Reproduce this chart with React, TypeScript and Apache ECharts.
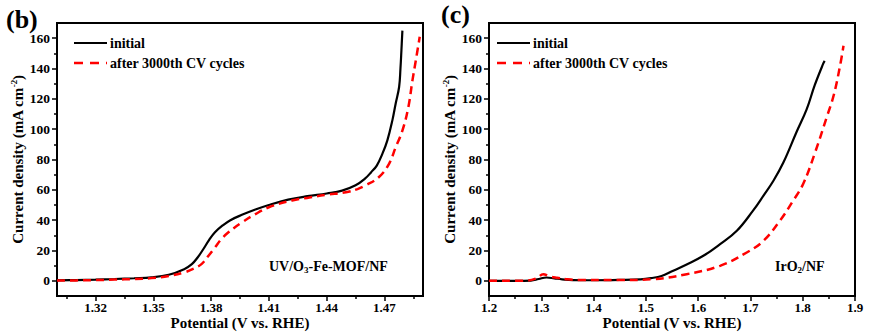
import React, { useEffect, useRef } from "react";
import * as echarts from "echarts";

// ---------- data: panel (b) UV/O3-Fe-MOF/NF ----------
const bInitialX = [1.300, 1.310, 1.320, 1.330, 1.340, 1.349, 1.358, 1.366, 1.370, 1.373, 1.376, 1.379, 1.382, 1.386, 1.390, 1.396, 1.403, 1.410, 1.420, 1.430, 1.440, 1.448, 1.455, 1.460, 1.463, 1.466, 1.469, 1.4715, 1.4741, 1.4758, 1.4776, 1.4783, 1.4788, 1.4793];
const bInitialY = [0.3, 0.5, 0.8, 1.2, 1.7, 2.3, 4.0, 7.7, 11, 15.4, 21, 27, 32, 36.5, 40, 43.5, 47, 50, 53.5, 55.8, 57.6, 59.5, 63, 67.5, 71.5, 76, 84, 92.6, 105.8, 116.8, 127.8, 140, 152, 165];
const bAfterX = [1.300, 1.310, 1.320, 1.330, 1.340, 1.349, 1.358, 1.366, 1.371, 1.375, 1.378, 1.382, 1.385, 1.389, 1.396, 1.403, 1.410, 1.422, 1.431, 1.440, 1.450, 1.456, 1.460, 1.467, 1.4723, 1.4758, 1.4793, 1.4824, 1.4845, 1.4863, 1.4883];
const bAfterY = [0.2, 0.3, 0.5, 0.8, 1.2, 1.8, 3.2, 5.5, 8, 11, 15.5, 22, 27, 32, 38.5, 44, 48.5, 53, 55, 56.8, 58.4, 60.5, 62.8, 68.3, 77, 88, 99, 114.6, 132, 145.5, 160.9];

// ---------- data: panel (c) IrO2/NF ----------
const cInitialX = [1.20, 1.25, 1.28, 1.295, 1.31, 1.325, 1.34, 1.36, 1.40, 1.45, 1.49, 1.51, 1.53, 1.55, 1.578, 1.610, 1.642, 1.674, 1.705, 1.725, 1.744, 1.763, 1.788, 1.8075, 1.823, 1.839, 1.842];
const cInitialY = [0, 0, 0.2, 1.2, 2.2, 1.6, 1.0, 0.5, 0.4, 0.6, 1.0, 1.8, 3.2, 6.3, 10.8, 16.5, 24.2, 33, 46.3, 56.2, 66, 78, 98, 113, 129, 143, 145];
const cAfterX = [1.20, 1.27, 1.29, 1.304, 1.315, 1.33, 1.35, 1.38, 1.45, 1.514, 1.578, 1.642, 1.693, 1.725, 1.7565, 1.782, 1.801, 1.823, 1.846, 1.859, 1.871, 1.878];
const cAfterY = [0, 0.1, 1.5, 4.4, 3.0, 2.0, 1.0, 0.5, 0.5, 1.1, 4.4, 9.9, 18.7, 26.4, 39.7, 53, 64, 84, 108, 122, 141, 155];

// ---------- ticks ----------
const bXTicks = [1.32, 1.35, 1.38, 1.41, 1.44, 1.47];
const bXMinor = [1.305, 1.335, 1.365, 1.395, 1.425, 1.455, 1.485];
const cXTicks = [1.2, 1.3, 1.4, 1.5, 1.6, 1.7, 1.8, 1.9];
const cXMinor = [1.25, 1.35, 1.45, 1.55, 1.65, 1.75, 1.85];
const yTicks = [0, 20, 40, 60, 80, 100, 120, 140, 160];
const yMinor = [10, 30, 50, 70, 90, 110, 130, 150];

const seriesNames = ["initial", "after 3000th CV cycles"];

const zip = (xs: number[], ys: number[]) => xs.map((x, i) => [x, ys[i]]);

const FONT = "'Liberation Serif', 'Times New Roman', serif";

export default function App() {
  const ref = useRef<HTMLDivElement>(null);

  useEffect(() => {
    if (!ref.current) return;
    const chart = echarts.init(ref.current, undefined, { renderer: "svg" });

    const grids = [
      { left: 57, top: 23, width: 366, height: 273 },
      { left: 489, top: 23, width: 366, height: 273 },
    ];

    const labelStyle = {
      color: "#000",
      fontWeight: "bold" as const,
      fontSize: 13.5,
      fontFamily: FONT,
    };

    const makeX = (g: number, min: number, max: number, ticks: number[], minor: number[], dec: number) => [
      {
        type: "value",
        gridIndex: g,
        min,
        max,
        position: "bottom",
        axisLine: { show: true, onZero: false, lineStyle: { color: "#000", width: 2 } },
        axisTick: { show: true, inside: false, length: 5, customValues: ticks, lineStyle: { color: "#000", width: 1.5 } },
        axisLabel: {
          show: true,
          customValues: ticks,
          margin: 5,
          lineHeight: 12,
          formatter: (v: number) => v.toFixed(dec),
          ...labelStyle,
          fontSize: 13,
        },
        splitLine: { show: false },
        name: "Potential (V vs. RHE)",
        nameLocation: "middle",
        nameGap: 20,
        nameMoveOverlap: false,
        nameTextStyle: {
          color: "#000",
          fontWeight: "bold",
          fontSize: 15,
          lineHeight: 14,
          fontFamily: FONT,
          verticalAlign: "top",
        },
      },
      {
        type: "value",
        gridIndex: g,
        min,
        max,
        position: "bottom",
        axisLine: { show: false, onZero: false },
        axisTick: { show: true, inside: false, length: 3, customValues: minor, lineStyle: { color: "#000", width: 1.5 } },
        axisLabel: { show: false },
        splitLine: { show: false },
      },
    ];

    const makeY = (g: number) => [
      {
        type: "value",
        gridIndex: g,
        min: -10,
        max: 170,
        position: "left",
        axisLine: { show: true, onZero: false, lineStyle: { color: "#000", width: 2 } },
        axisTick: { show: true, inside: false, length: 5, customValues: yTicks, lineStyle: { color: "#000", width: 1.5 } },
        axisLabel: { show: true, customValues: yTicks, margin: 7, ...labelStyle },
        splitLine: { show: false },
        name: "{a|Current density (mA cm}{s|-2}{a|)}",
        nameLocation: "middle",
        nameGap: 31,
        nameMoveOverlap: false,
        nameTextStyle: {
          color: "#000",
          fontWeight: "bold",
          fontSize: 15,
          fontFamily: FONT,
          rich: {
            a: { color: "#000", fontWeight: "bold", fontSize: 15, fontFamily: FONT },
            s: { color: "#000", fontWeight: "bold", fontSize: 9, fontFamily: FONT, padding: [0, 0, 8, 0] },
          },
        },
      },
      {
        type: "value",
        gridIndex: g,
        min: -10,
        max: 170,
        position: "left",
        axisLine: { show: false, onZero: false },
        axisTick: { show: true, inside: false, length: 3, customValues: yMinor, lineStyle: { color: "#000", width: 1.5 } },
        axisLabel: { show: false },
        splitLine: { show: false },
      },
    ];

    const lineInitial = { color: "#000", width: 2.2, type: "solid" };
    const lineAfter = { color: "#ff0000", width: 2.5, type: [8, 5] };

    const mkSeries = (name: string, xi: number, yi: number, data: number[][], ls: any) => ({
      type: "line",
      name,
      xAxisIndex: xi,
      yAxisIndex: yi,
      data,
      showSymbol: false,
      symbol: "none",
      smooth: 0.4,
      color: ls.color,
      lineStyle: ls,
      z: name === "initial" ? 3 : 4,
    });

    const legendGraphic = (x0: number) => [
      {
        type: "line",
        shape: { x1: x0, y1: 43, x2: x0 + 33, y2: 43 },
        style: { stroke: "#000", lineWidth: 2.2 },
      },
      {
        type: "line",
        shape: { x1: x0, y1: 63, x2: x0 + 33, y2: 63 },
        style: { stroke: "#ff0000", lineWidth: 2.5, lineDash: [9, 7] },
      },
      {
        type: "text",
        x: x0 + 36,
        y: 43,
        style: { text: seriesNames[0], fill: "#000", font: `bold 14px ${FONT}`, verticalAlign: "middle" },
      },
      {
        type: "text",
        x: x0 + 36,
        y: 63,
        style: { text: seriesNames[1], fill: "#000", font: `bold 14px ${FONT}`, verticalAlign: "middle" },
      },
    ];

    const sub = {
      a: { fill: "#000", fontWeight: "bold", fontSize: 14, fontFamily: FONT },
      b: { fill: "#000", fontWeight: "bold", fontSize: 9, fontFamily: FONT, padding: [7, 0, 0, 0] },
    };

    const option: any = {
      animation: false,
      backgroundColor: "#fff",
      grid: grids.map((g) => ({
        ...g,
        show: true,
        borderColor: "#000",
        borderWidth: 2,
        backgroundColor: "transparent",
        containLabel: false,
        outerBoundsMode: "none",
      })),
      xAxis: [...makeX(0, 1.3, 1.49, bXTicks, bXMinor, 2), ...makeX(1, 1.2, 1.9, cXTicks, cXMinor, 1)],
      yAxis: [...makeY(0), ...makeY(1)],
      series: [
        mkSeries(seriesNames[0], 0, 0, zip(bInitialX, bInitialY), lineInitial),
        mkSeries(seriesNames[1], 0, 0, zip(bAfterX, bAfterY), lineAfter),
        mkSeries(seriesNames[0], 2, 2, zip(cInitialX, cInitialY), lineInitial),
        mkSeries(seriesNames[1], 2, 2, zip(cAfterX, cAfterY), lineAfter),
      ],
      graphic: [
        ...legendGraphic(74),
        ...legendGraphic(497),
        {
          type: "text",
          left: 6,
          top: 6,
          style: { text: "(b)", fill: "#000", font: `bold 26px ${FONT}` },
        },
        {
          type: "text",
          left: 441,
          top: 1,
          style: { text: "(c)", fill: "#000", font: `bold 26px ${FONT}` },
        },
        {
          type: "text",
          left: 269,
          top: 259,
          style: { text: "{a|UV/O}{b|3}{a|-Fe-MOF/NF}", rich: sub },
        },
        {
          type: "text",
          left: 775,
          top: 259,
          style: { text: "{a|IrO}{b|2}{a|/NF}", rich: sub },
        },
      ],
    };

    chart.setOption(option);
    return () => chart.dispose();
  }, []);

  return <div ref={ref} style={{ position: "absolute", left: 0, top: 0, width: 878, height: 333 }} />;
}
